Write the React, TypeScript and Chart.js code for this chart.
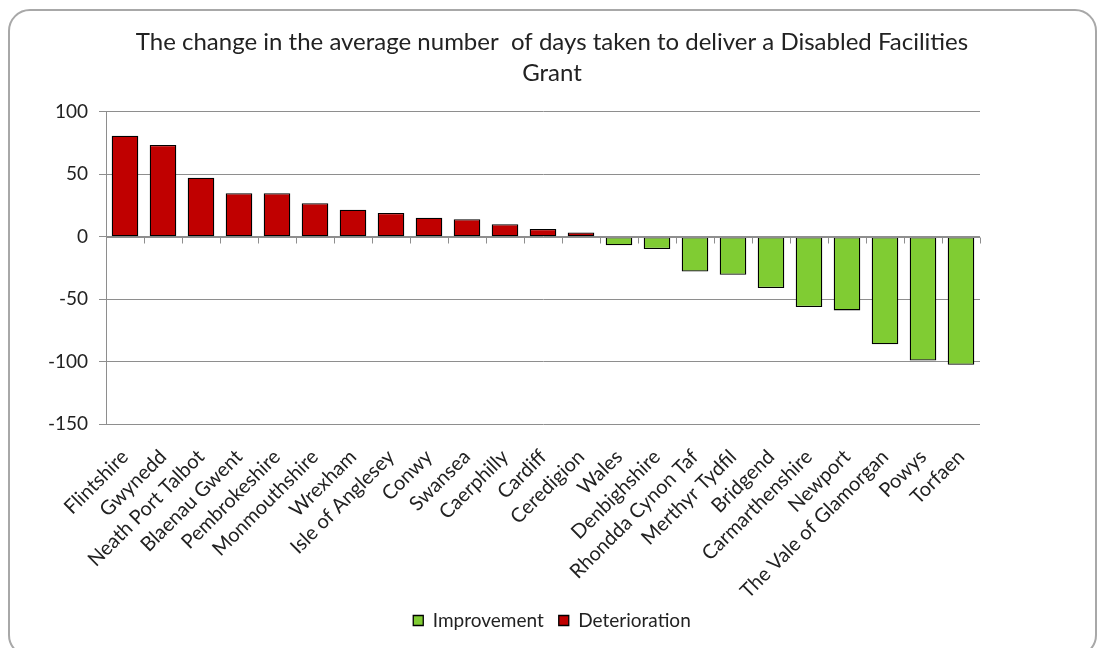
import React, { useEffect, useRef } from "react";
import { Chart, registerables } from "chart.js";

Chart.register(...registerables);

const categories = [
  "Flintshire",
  "Gwynedd",
  "Neath Port Talbot",
  "Blaenau Gwent",
  "Pembrokeshire",
  "Monmouthshire",
  "Wrexham",
  "Isle of Anglesey",
  "Conwy",
  "Swansea",
  "Caerphilly",
  "Cardiff",
  "Ceredigion",
  "Wales",
  "Denbighshire",
  "Rhondda Cynon Taf",
  "Merthyr Tydfil",
  "Bridgend",
  "Carmarthenshire",
  "Newport",
  "The Vale of Glamorgan",
  "Powys",
  "Torfaen",
];

const improvement = [
  null, null, null, null, null, null, null, null, null, null, null, null, null,
  -6.9, -9.8, -27.8, -30.4, -41, -56.3, -59, -86.2, -99.2, -102.6,
];

const deterioration = [
  81, 73.6, 47.3, 34.8, 34.8, 26.8, 21.6, 19.0, 15.3, 14.0, 10.0, 6.3, 3.4,
  null, null, null, null, null, null, null, null, null, null,
];

const titleLines = [
  "The change in the average number  of days taken to deliver a Disabled Facilities",
  "Grant",
];

const yMin = -150;
const yMax = 100;
const yStep = 50;

const FONT = "Lato, 'Open Sans', sans-serif";
const TEXT = "#222222";
const GRID = "#8e8e8e";

const zeroAxisPlugin = {
  id: "zeroAxis",
  afterDatasetsDraw(chart: any) {
    const xs = chart.scales.x;
    const ys = chart.scales.y;
    const ctx = chart.ctx;
    const y0 = Math.round(ys.getPixelForValue(0)) + 0.5;
    ctx.save();
    ctx.strokeStyle = GRID;
    ctx.lineWidth = 1;
    ctx.beginPath();
    ctx.moveTo(xs.left, y0);
    ctx.lineTo(xs.right, y0);
    for (let i = 0; i <= categories.length; i++) {
      const px = Math.round(xs.getPixelForValue(i - 0.5)) + 0.5;
      ctx.moveTo(px, y0);
      ctx.lineTo(px, y0 + 6);
    }
    ctx.stroke();
    ctx.restore();
  },
};

export default function App() {
  const canvasRef = useRef<HTMLCanvasElement | null>(null);

  useEffect(() => {
    if (!canvasRef.current) return;
    const chart = new Chart(canvasRef.current, {
      type: "bar",
      data: {
        labels: categories,
        datasets: [
          {
            label: "Improvement",
            data: improvement,
            backgroundColor: "#80CC33",
            borderColor: "#000000",
            borderWidth: 1.3,
            borderSkipped: false,
            barPercentage: 0.7,
            categoryPercentage: 1,
          },
          {
            label: "Deterioration",
            data: deterioration,
            backgroundColor: "#C00000",
            borderColor: "#000000",
            borderWidth: 1.3,
            borderSkipped: false,
            barPercentage: 0.7,
            categoryPercentage: 1,
          },
        ],
      },
      options: {
        animation: false,
        responsive: false,
        maintainAspectRatio: false,
        layout: { padding: { left: 0, right: 0, top: 0, bottom: 8 } },
        plugins: {
          title: {
            display: true,
            text: titleLines,
            color: TEXT,
            font: { family: FONT, size: 24, weight: "normal", lineHeight: 1.29 },
            padding: { top: 27, bottom: 23 },
          },
          legend: {
            display: true,
            position: "bottom",
            labels: {
              color: TEXT,
              font: { family: FONT, size: 19 },
              boxWidth: 10,
              boxHeight: 10,
              padding: 15,
            },
          },
          tooltip: { enabled: false },
        },
        scales: {
          x: {
            stacked: true,
            grid: { display: false },
            border: { display: false },
            ticks: {
              autoSkip: false,
              maxRotation: 45,
              minRotation: 45,
              color: TEXT,
              font: { family: FONT, size: 20 },
              padding: 13,
            },
            afterFit(scale: any) {
              scale.height = 172;
            },
          },
          y: {
            stacked: true,
            min: yMin,
            max: yMax,
            ticks: {
              stepSize: yStep,
              color: TEXT,
              font: { family: FONT, size: 19 },
              padding: 11,
            },
            grid: {
              color: GRID,
              tickLength: 7,
              tickColor: GRID,
            },
            border: { display: true, color: GRID },
            afterFit(scale: any) {
              scale.width = 106;
            },
          },
          yRight: {
            position: "right",
            min: yMin,
            max: yMax,
            grid: { display: false },
            border: { display: false },
            ticks: { display: false },
            afterFit(scale: any) {
              scale.width = 124;
            },
          },
        },
      },
      plugins: [zeroAxisPlugin],
    });
    return () => chart.destroy();
  }, []);

  return (
    <div
      style={{
        position: "fixed",
        left: 0,
        top: 0,
        width: 1104,
        height: 648,
        overflow: "hidden",
        background: "#ffffff",
      }}
    >
      <div
        style={{
          position: "absolute",
          left: 8,
          top: 9,
          width: 1089,
          height: 648,
          border: "2px solid #a8a8a8",
          borderRadius: 22,
          boxSizing: "border-box",
        }}
      />
      <canvas
        ref={canvasRef}
        width={1104}
        height={648}
        style={{ position: "absolute", left: 0, top: 0, width: 1104, height: 648 }}
      />
    </div>
  );
}
